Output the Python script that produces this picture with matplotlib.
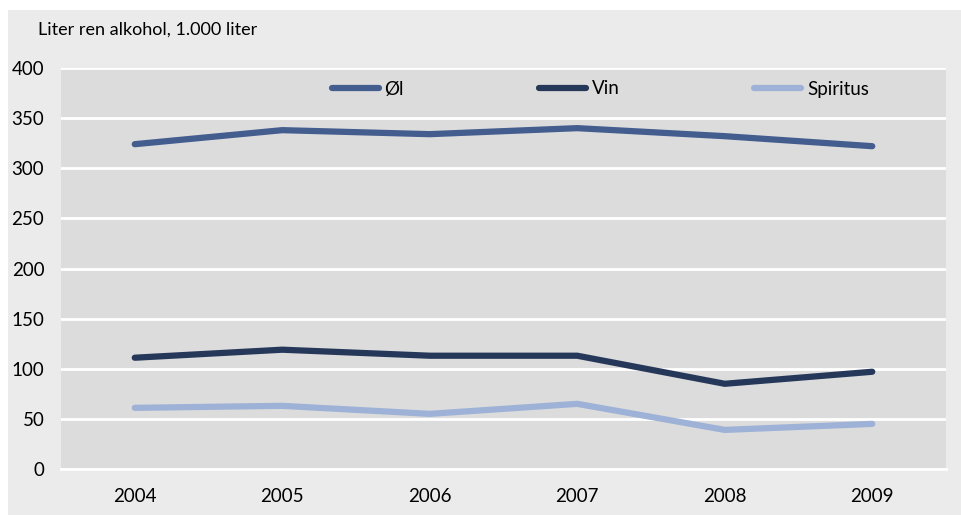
import numpy as np
import matplotlib.pyplot as plt

# ============================================================
# DATA
# ============================================================

years = ["2004", "2005", "2006", "2007", "2008", "2009"]

ol = [324, 338, 334, 340, 332, 322]
vin = [111, 119, 113, 113, 85, 97]
spiritus = [61, 63, 55, 65, 39, 45]

series_names = ["Øl", "Vin", "Spiritus"]
series_colors = ["#435d8e", "#26385a", "#9eb2d7"]

yticks = [0, 50, 100, 150, 200, 250, 300, 350, 400]

# ============================================================
# FIGURE
# ============================================================

plt.rcParams["font.family"] = ["Lato", "DejaVu Sans"]

fig = plt.figure(figsize=(9.62, 5.15), dpi=100)
fig.patch.set_facecolor("white")

# outer light-gray panel (background axes)
bg = fig.add_axes([8 / 962, 0, 1 - 8 / 962, 1 - 10 / 515], zorder=-5)
bg.set_facecolor("#ebebeb")
bg.set_xticks([])
bg.set_yticks([])
for spine in bg.spines.values():
    spine.set_visible(False)

ax = fig.add_axes([61 / 962, 1 - 469 / 515, 885 / 962, 401 / 515])
ax.set_facecolor("#dcdcdc")

x = np.arange(len(years))

for values, name, color in zip([ol, vin, spiritus], series_names, series_colors):
    ax.plot(
        x,
        values,
        color=color,
        linewidth=4.5,
        solid_capstyle="round",
        solid_joinstyle="round",
        label=name,
        zorder=3
    )

ax.set_xlim(-0.5, len(years) - 0.5)
ax.set_ylim(0, 400)

ax.set_yticks(yticks)
ax.set_yticklabels([str(t) for t in yticks], fontsize=13.5)
ax.set_xticks(x)
ax.set_xticklabels(years, fontsize=13.5)

ax.tick_params(axis="both", length=0, colors="black")
ax.tick_params(axis="x", pad=14)
ax.tick_params(axis="y", pad=12)

ax.grid(axis="y", color="white", linewidth=2, zorder=1)
ax.set_axisbelow(True)

for spine in ax.spines.values():
    spine.set_visible(False)

ax.axhline(0, color="white", linewidth=2, zorder=2, clip_on=False)

ax.legend(
    loc="center left",
    bbox_to_anchor=((332 - 61) / 885, (469 - 89) / 401),
    ncol=3,
    frameon=False,
    fontsize=13.5,
    handlelength=2.5,
    handletextpad=0.3,
    columnspacing=7.2,
    borderaxespad=0,
    borderpad=0
)

fig.text(
    38 / 962, 1 - 30 / 515,
    "Liter ren alkohol, 1.000 liter",
    fontsize=13,
    va="center",
    ha="left"
)

fig.savefig("out.png", dpi=100, facecolor=fig.get_facecolor())
